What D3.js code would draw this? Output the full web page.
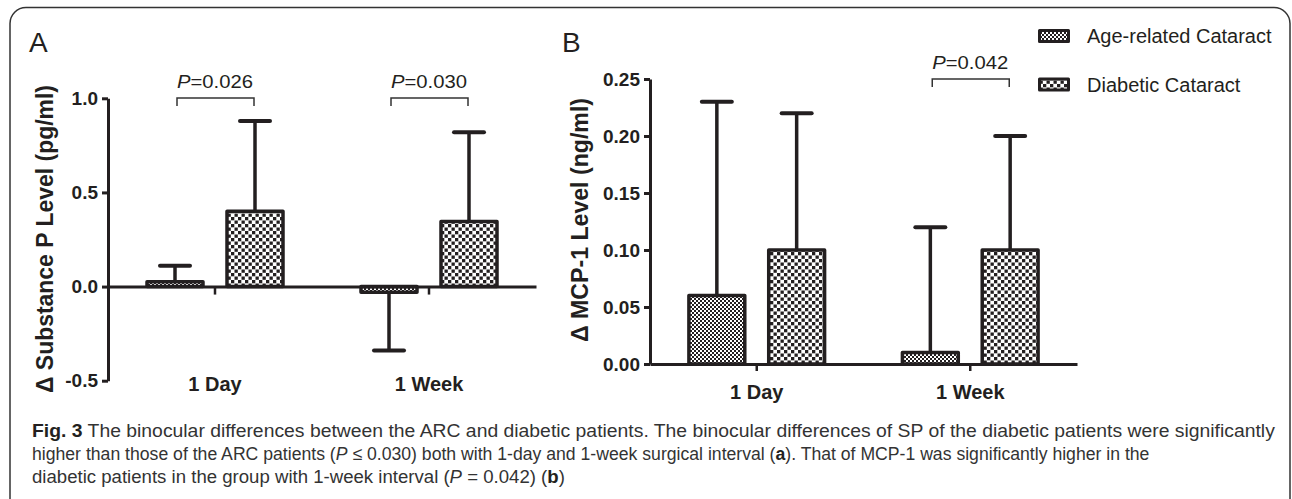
<!DOCTYPE html>
<html lang="en">
<head>
<meta charset="UTF-8">
<title>Fig. 3 binocular differences</title>
<script src="https://d3js.org/d3.v7.min.js"></script>
<style>
  body { margin: 0; background: #fff; }
  svg { display: block; }
  .chart text { font-family: "Liberation Sans", Arial, sans-serif; fill: #231f20; }
  .tick text { font-weight: bold; font-size: 19px; }
  .caption { font-family: "Liberation Sans", Arial, sans-serif; font-size: 18.5px; fill: #333; }
</style>
</head>
<body>
<svg id="fig" width="1292" height="499"></svg>
<script>
// data
const groups = ["1 Day", "1 Week"];
const series = ["Age-related Cataract", "Diabetic Cataract"];

// panel A: delta substance P (pg/ml), mean and SD
const spMean = [[0.025, 0.40], [-0.03, 0.345]];
const spSD = [[0.085, 0.48], [0.31, 0.475]];
const spTicks = [-0.5, 0.0, 0.5, 1.0];
const spP = ["0.026", "0.030"];

// panel B: delta MCP-1 (ng/ml)
const mcpMean = [[0.06, 0.10], [0.01, 0.10]];
const mcpSD = [[0.17, 0.12], [0.11, 0.10]];
const mcpTicks = [0.00, 0.05, 0.10, 0.15, 0.20, 0.25];
const mcpP = [null, "0.042"];

const ink = "#231f20";
const svg = d3.select("#fig");

// outer frame
svg.append("rect")
  .attr("x", 10).attr("y", 7.5)
  .attr("width", 1280).attr("height", 540)
  .attr("rx", 16)
  .attr("fill", "none")
  .attr("stroke", "#333")
  .attr("stroke-width", 1.5);

// hatch patterns
const defs = svg.append("defs");
const fine = defs.append("pattern").attr("id", "fine")
  .attr("patternUnits", "userSpaceOnUse").attr("width", 4).attr("height", 4);
fine.append("rect").attr("width", 4).attr("height", 4).attr("fill", "#fff");
fine.append("rect").attr("width", 2).attr("height", 2).attr("fill", ink);
fine.append("rect").attr("x", 2).attr("y", 2).attr("width", 2).attr("height", 2).attr("fill", ink);

const coarse = defs.append("pattern").attr("id", "coarse")
  .attr("patternUnits", "userSpaceOnUse").attr("width", 7).attr("height", 7);
coarse.append("rect").attr("width", 7).attr("height", 7).attr("fill", "#fff");
coarse.append("rect").attr("width", 3.3).attr("height", 3.3).attr("fill", ink);
coarse.append("rect").attr("x", 3.5).attr("y", 3.5).attr("width", 3.3).attr("height", 3.3).attr("fill", ink);

const fills = { "Age-related Cataract": "url(#fine)", "Diabetic Cataract": "url(#coarse)" };

// plain hyphen for negatives, like the original
const fmt = p => v => d3.format(p)(v).replace("\u2212", "-");

function panel(opt) {
  const g = svg.append("g").attr("class", "chart");

  const x = d3.scaleBand().domain(groups).range(opt.xr).padding(0);
  const xs = d3.scaleBand().domain(series).range([0, x.bandwidth()])
    .paddingInner(0.3).paddingOuter(0.4875);
  const y = d3.scaleLinear().domain(opt.domain).range(opt.yr);

  const rows = [];
  groups.forEach((grp, i) => series.forEach((s, j) => {
    rows.push({ grp, s, mean: opt.mean[i][j], sd: opt.sd[i][j] });
  }));

  // error bars (one sided, away from zero)
  rows.forEach(d => {
    const cx = x(d.grp) + xs(d.s) + xs.bandwidth() / 2;
    const end = d.mean + Math.sign(d.mean) * d.sd;
    g.append("line")
      .attr("x1", cx).attr("x2", cx)
      .attr("y1", y(d.mean)).attr("y2", y(end))
      .attr("stroke", ink).attr("stroke-width", 3.5);
    g.append("line")
      .attr("x1", cx - 15).attr("x2", cx + 15)
      .attr("y1", y(end)).attr("y2", y(end))
      .attr("stroke", ink).attr("stroke-width", 4).attr("stroke-linecap", "round");
  });

  // bars
  g.selectAll(".bar").data(rows).enter().append("rect")
    .attr("class", "bar")
    .attr("x", d => x(d.grp) + xs(d.s))
    .attr("y", d => Math.min(y(0), y(d.mean)))
    .attr("width", xs.bandwidth())
    .attr("height", d => Math.abs(y(d.mean) - y(0)))
    .attr("fill", d => fills[d.s])
    .attr("stroke", ink).attr("stroke-width", 3.5)
    .attr("stroke-linejoin", "round");

  // y axis
  const ya = g.append("g")
    .attr("transform", `translate(${opt.xr[0]},0)`)
    .call(d3.axisLeft(y).tickValues(opt.ticks).tickSize(6).tickSizeOuter(0)
      .tickPadding(4).tickFormat(opt.fmt));
  ya.select(".domain").attr("stroke", ink).attr("stroke-width", 3);
  ya.selectAll(".tick line").attr("stroke", ink).attr("stroke-width", 3);
  ya.selectAll(".tick text").attr("fill", ink);

  // x axis on the zero line
  const xa = g.append("g")
    .attr("transform", `translate(0,${y(0)})`)
    .call(d3.axisBottom(x).tickSize(opt.xtick).tickSizeOuter(0).tickFormat(""));
  xa.select(".domain").attr("stroke", ink).attr("stroke-width", 3);
  xa.selectAll(".tick line").attr("stroke", ink).attr("stroke-width", 2.5);

  // category labels
  g.selectAll(".cat").data(groups).enter().append("text")
    .attr("class", "cat")
    .attr("x", d => x(d) + x.bandwidth() / 2)
    .attr("y", opt.labelY)
    .attr("text-anchor", "middle")
    .style("font-weight", "bold").style("font-size", "20px")
    .text(d => d);

  // y title
  g.append("text")
    .attr("transform", `translate(${opt.titleX},${opt.titleY}) rotate(-90)`)
    .attr("text-anchor", "middle")
    .attr("textLength", opt.titleLen).attr("lengthAdjust", "spacingAndGlyphs")
    .style("font-weight", "bold").style("font-size", "23px")
    .text(opt.title);

  // panel letter
  g.append("text")
    .attr("x", opt.letterX).attr("y", 52)
    .style("font-size", "28px")
    .text(opt.letter);

  // significance brackets
  opt.p.forEach((p, i) => {
    if (!p) return;
    const cx = x(groups[i]) + x.bandwidth() / 2;
    const by = opt.bracketY;
    g.append("path")
      .attr("d", `M${cx - 38},${by + 8}V${by}H${cx + 39}V${by + 8}`)
      .attr("fill", "none").attr("stroke", "#333").attr("stroke-width", 1.5);
    const t = g.append("text")
      .attr("x", cx).attr("y", by - 10)
      .attr("text-anchor", "middle")
      .attr("textLength", 76).attr("lengthAdjust", "spacingAndGlyphs")
      .style("font-size", "19px");
    t.append("tspan").style("font-style", "italic").text("P");
    t.append("tspan").text("=" + p);
  });
}

panel({
  letter: "A", letterX: 29,
  xr: [108, 536], yr: [380.7, 98.3], domain: [-0.5, 1.0],
  mean: spMean, sd: spSD, ticks: spTicks, fmt: fmt(".1f"),
  xtick: 8, labelY: 391,
  title: "\u0394 Substance P Level (pg/ml)", titleX: 53, titleY: 239, titleLen: 308,
  p: spP, bracketY: 98
});

panel({
  letter: "B", letterX: 562,
  xr: [650, 1077], yr: [364, 79], domain: [0, 0.25],
  mean: mcpMean, sd: mcpSD, ticks: mcpTicks, fmt: fmt(".2f"),
  xtick: 7, labelY: 399,
  title: "\u0394 MCP-1 Level (ng/ml)", titleX: 588, titleY: 220, titleLen: 244,
  p: mcpP, bracketY: 79
});

// legend
const leg = svg.append("g").attr("class", "chart");
series.forEach((s, i) => {
  const ly = 36 + i * 48.5;
  leg.append("rect")
    .attr("x", 1039.5).attr("y", ly - 5.5)
    .attr("width", 29).attr("height", 11)
    .attr("fill", fills[s])
    .attr("stroke", ink).attr("stroke-width", 3)
    .attr("stroke-linejoin", "round");
  leg.append("text")
    .attr("x", 1087).attr("y", ly)
    .attr("dy", "0.35em")
    .style("font-size", "20px")
    .text(s);
});

// caption, squeezed horizontally to the original line widths
const capLines = [
  { len: 1244, parts: [["Fig. 3", "b"], [" The binocular differences between the ARC and diabetic patients. The binocular differences of SP of the diabetic patients were significantly", ""]] },
  { len: 1118, parts: [["higher than those of the ARC patients (", ""], ["P", "i"], [" \u2264 0.030) both with 1-day and 1-week surgical interval (", ""], ["a", "b"], ["). That of MCP-1 was significantly higher in the", ""]] },
  { len: 533, parts: [["diabetic patients in the group with 1-week interval (", ""], ["P", "i"], [" = 0.042) (", ""], ["b", "b"], [")", ""]] }
];
const capBase = [437, 460, 483];
capLines.forEach((line, i) => {
  const cg = svg.append("g");
  const t = cg.append("text").attr("class", "caption").attr("x", 0).attr("y", 0);
  line.parts.forEach(([txt, st]) => {
    const sp = t.append("tspan").text(txt);
    if (st === "b") sp.style("font-weight", "bold").style("fill", "#231f20");
    if (st === "i") sp.style("font-style", "italic");
  });
  const w = t.node().getComputedTextLength();
  cg.attr("transform", `translate(32,${capBase[i]}) scale(${line.len / w},1)`);
});
</script>
</body>
</html>
